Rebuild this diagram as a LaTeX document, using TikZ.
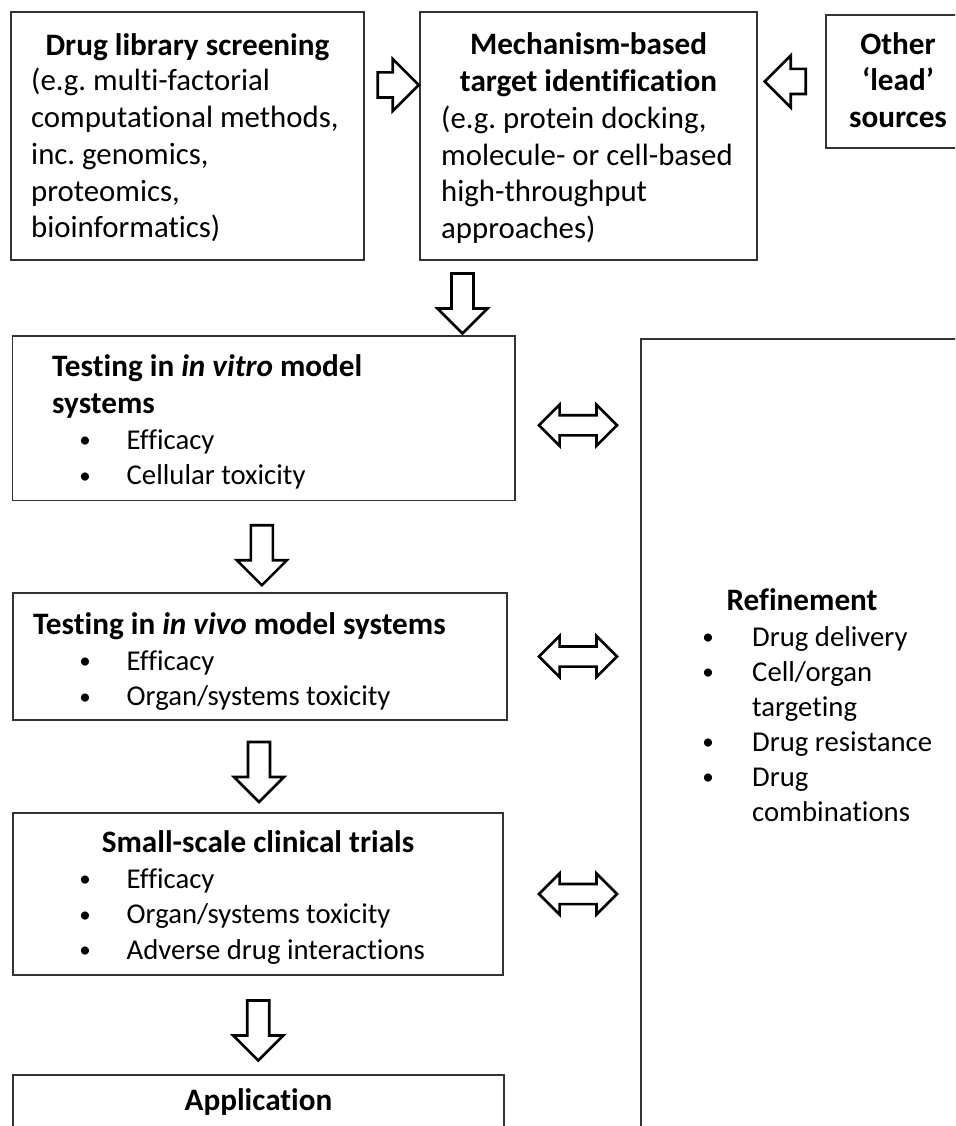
\documentclass[tikz,border=0pt]{standalone}
\usepackage{fontspec}
\setmainfont{Carlito}[Ligatures={TeX,NoCommon}]
\usetikzlibrary{shapes.arrows,calc}

\newcommand{\topfont}{\fontsize{30.8}{36.8}\selectfont}
\newcommand{\lowfont}{\fontsize{28.7}{35.5}\selectfont}
\newcommand{\hdfont}{\fontsize{31.2}{36.8}\selectfont\bfseries}
\newcommand{\tp}{\rule{0pt}{26pt}}
\newcommand{\bl}[1][83pt]{\llap{\makebox[#1]{\raisebox{1.5pt}{\fontsize{23}{23}\selectfont\textbullet}}}}
\frenchspacing

\tikzset{
  box/.style={draw=black!80, line width=1.5pt, inner sep=0pt},
  bodytxt/.style={inner sep=0pt, anchor=north west, align=left, font=\lowfont},
  headtxt/.style={inner sep=0pt, anchor=north, align=center, font=\hdfont},
  fatarrow/.style={single arrow, draw=black, fill=white, line width=2.6pt,
    inner xsep=0pt, inner ysep=9.7pt, single arrow head extend=14pt,
    single arrow tip angle=90, single arrow head indent=0pt},
  sidearrow/.style={fatarrow, inner ysep=11.25pt, single arrow head extend=13.5pt, minimum height=41pt},
  twoway/.style={double arrow, draw=black, fill=white, line width=2.6pt,
    inner xsep=0pt, inner ysep=8.75pt, minimum height=78pt,
    double arrow head extend=10.5pt, double arrow tip angle=90}
}

\begin{document}
\begin{tikzpicture}[x=1pt, y=-1pt]
\useasboundingbox (0,0) rectangle (955,1126);
\clip (0,0) rectangle (955,1126);

% boxes
\node[box, minimum width=353pt, minimum height=248pt] (screen) at (187.5,136) {};
\node[box, minimum width=337pt, minimum height=248pt] (mech) at (588.5,136) {};
\node[box, minimum width=144pt, minimum height=133pt] (other) at (898,81.5) {};
\node[box, minimum width=502.5pt, minimum height=164.5pt] (vitro) at (263.75,418.25) {};
\node[box, minimum width=494pt, minimum height=127pt] (vivo) at (260,656.5) {};
\node[box, minimum width=490pt, minimum height=162pt] (small) at (258,894) {};
\node[box, minimum width=491pt, minimum height=120pt] (app) at (258.5,1135) {};
\node[box, minimum width=360pt, minimum height=862pt, anchor=north west] (refine) at (640,338) {};

% texts
\node[headtxt] (screenhd) at (187.5,29) {\tp Drug library screening};
\node[bodytxt, font=\topfont] (screentx) at (31,64.5) {\tp(e.g. multi-factorial\\computational methods,\\inc. genomics,\\proteomics,\\bioinformatics)};
\node[headtxt] (mechhd) at (588.5,28.5) {\tp Mechanism-based\\target identification};
\node[bodytxt, font=\topfont] (mechtx) at (441,102) {\tp(e.g. protein docking,\\molecule- or cell-based\\high-throughput\\approaches)};
\node[headtxt] (otherhd) at (898,28) {\tp Other\\`lead'\\sources};

\node[bodytxt, font=\hdfont] (vitrohd) at (52,350) {\tp Testing in \textit{in vitro} model\\systems};
\node[bodytxt] (vitrotx) at (126.5,423) {\tp\bl Efficacy\\\bl Cellular toxicity};
\node[bodytxt, font=\hdfont] (vivohd) at (33,608) {\tp Testing in \textit{in vivo} model systems};
\node[bodytxt] (vivotx) at (126.5,644) {\tp\bl Efficacy\\\bl Organ/systems toxicity};
\node[headtxt] (smallhd) at (258,826) {\tp Small-scale clinical trials};
\node[bodytxt] (smalltx) at (126.5,862) {\tp\bl Efficacy\\\bl Organ/systems toxicity\\\bl Adverse drug interactions};
\node[headtxt] (apphd) at (258.5,1084) {\tp Application};
\node[headtxt] (refinehd) at (802,584) {\tp Refinement};
\node[bodytxt, font=\fontsize{28.7}{35}\selectfont] (refinetx) at (752,620) {\tp\bl[88pt]Drug delivery\\\bl[88pt]Cell/organ\\targeting\\\bl[88pt]Drug resistance\\\bl[88pt]Drug\\combinations};

% block arrows
\node[sidearrow] (a1) at ($(screen.east)!.5!(mech.west)+(0,-51)$) {};
\node[sidearrow, rotate=180] (a2) at ($(mech.east |- other.west)!.5!(other.west)$) {};
\node[fatarrow, minimum height=60pt, rotate=-90] (a3) at ($(mech.south west)!.5!(vitro.north east)+(-5,0)$) {};
\node[fatarrow, minimum height=60pt, rotate=-90] (d1) at ($(vitro.south)!.5!(vivo.north)+(0,3)$) {};
\node[fatarrow, minimum height=60pt, rotate=-90] (d2) at ($(vivo.south)!.5!(small.north)$) {};
\node[fatarrow, minimum height=60pt, rotate=-90] (d3) at ($(small.south)!.5!(app.north)$) {};
\node[twoway] (b1) at ($(vitro.east -| refine.west)+(-62,7)$) {};
\node[twoway] (b2) at ($(vivo.east -| refine.west)+(-62,0)$) {};
\node[twoway] (b3) at ($(small.east -| refine.west)+(-62,0)$) {};
\end{tikzpicture}
\end{document}
